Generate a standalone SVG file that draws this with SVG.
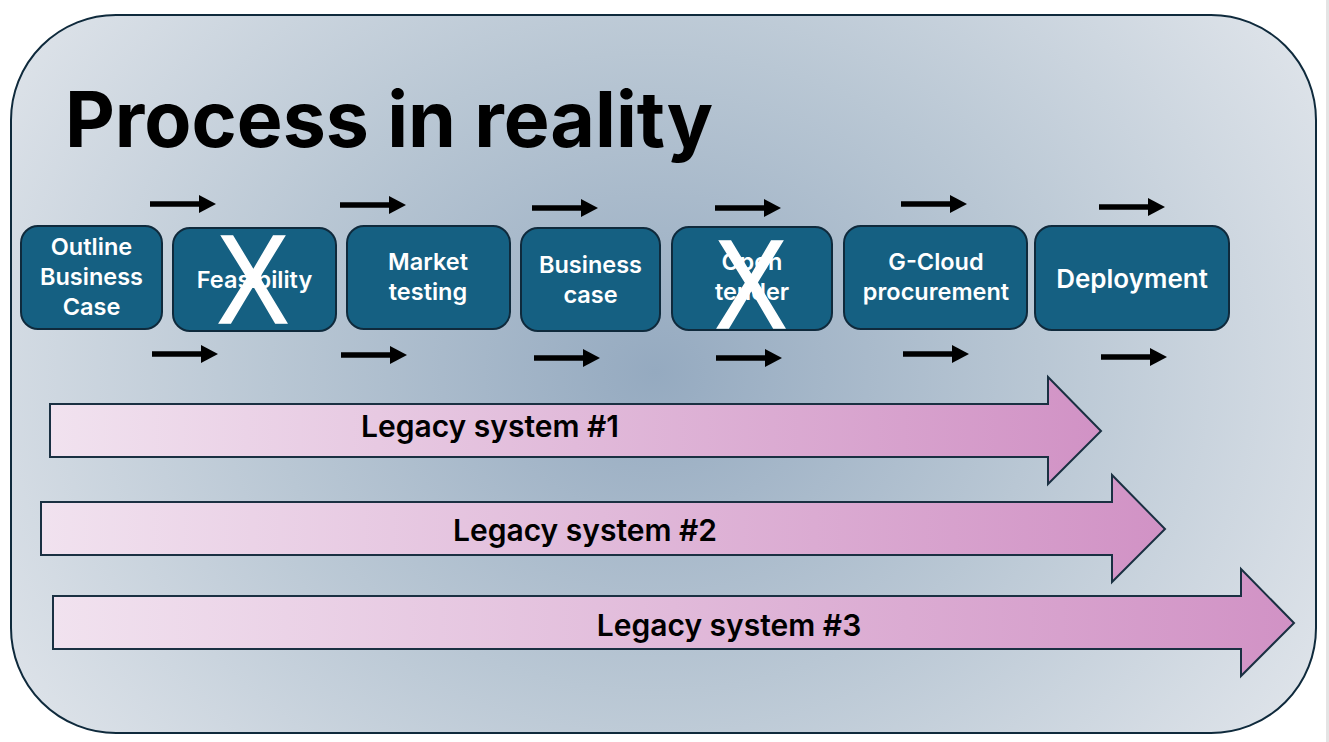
<svg xmlns="http://www.w3.org/2000/svg" width="1329" height="742" viewBox="0 0 1329 742">
<style>
text{font-family:"Inter","Open Sans","Liberation Sans",sans-serif;text-anchor:middle}
.box{fill:#156082;stroke:#0f2a3c;stroke-width:2}
.bt{fill:#fff;font-weight:600;font-size:23.500px}
.x{fill:#fff;stroke:#fff;stroke-width:1.500px;font-family:"Liberation Sans",sans-serif;font-size:126px}
.leg{stroke:#1a3042;stroke-width:2;fill:url(#pink)}
.lt{fill:#000;font-weight:600;font-size:30px}
.ar{stroke:#000;stroke-width:5.500;fill:none;marker-end:url(#head)}
</style>
<defs>
<radialGradient id="bg" gradientUnits="userSpaceOnUse" cx="0" cy="0" r="1" gradientTransform="translate(655 372) scale(770 640)">
<stop offset="0" stop-color="#95aac0"/><stop offset=".5" stop-color="#b9c7d4"/><stop offset="1" stop-color="#dfe4ea"/>
</radialGradient>
<linearGradient id="pink"><stop offset="0" stop-color="#f1e2ef"/><stop offset="1" stop-color="#d192c5"/></linearGradient>
<marker id="head" markerUnits="userSpaceOnUse" markerWidth="18" markerHeight="18" refX="1" refY="9" orient="auto"><path d="M0 0L17 9L0 18z" fill="#000"/></marker>
</defs>
<rect width="1329" height="742" fill="#fff"/>
<rect x="1326" width="3" height="742" fill="#e4e4e4"/>
<g id="frame"><rect x="11" y="15" width="1305" height="718" rx="105" ry="105" fill="url(#bg)" stroke="#0f2a3c" stroke-width="2"/></g>
<text id="title" x="389" y="147" style="font-weight:700;font-size:77px">Process in reality</text>
<g id="connectors">
<path class="ar" d="M150 204H200"/><path class="ar" d="M340 205H390"/><path class="ar" d="M532 208H582"/><path class="ar" d="M715 208H765"/><path class="ar" d="M901 204H951"/><path class="ar" d="M1099 207H1149"/>
<path class="ar" d="M152 354H202"/><path class="ar" d="M341 355H391"/><path class="ar" d="M534 358H584"/><path class="ar" d="M716 358H766"/><path class="ar" d="M903 354H953"/><path class="ar" d="M1101 357H1151"/>
</g>
<g id="n1"><rect class="box" x="21" y="226" width="141" height="103" rx="17"/><text class="bt" x="91.500" y="255">Outline</text><text class="bt" x="91.500" y="285">Business</text><text class="bt" x="91.500" y="315">Case</text></g>
<g id="n2"><rect class="box" x="173" y="228" width="163" height="103" rx="17"/><text class="bt" x="254.500" y="288">Feasibility</text><text class="x" x="253" y="322.500" textLength="72" lengthAdjust="spacingAndGlyphs">X</text></g>
<g id="n3"><rect class="box" x="347" y="226" width="163" height="103" rx="17"/><text class="bt" x="428" y="270">Market</text><text class="bt" x="428" y="300">testing</text></g>
<g id="n4"><rect class="box" x="521" y="228" width="139" height="103" rx="17"/><text class="bt" x="590.500" y="273">Business</text><text class="bt" x="590.500" y="303">case</text></g>
<g id="n5"><rect class="box" x="672" y="227" width="160" height="103" rx="17"/><text class="bt" x="752" y="270">Open</text><text class="bt" x="752" y="300">tender</text><text class="x" x="751" y="327.500" textLength="72" lengthAdjust="spacingAndGlyphs">X</text></g>
<g id="n6"><rect class="box" x="844" y="226" width="183" height="103" rx="17"/><text class="bt" x="936" y="270">G-Cloud</text><text class="bt" x="936" y="300">procurement</text></g>
<g id="n7"><rect class="box" x="1035" y="226" width="194" height="104" rx="17"/><text class="bt" x="1132" y="288" style="font-size:26px">Deployment</text></g>
<g id="leg1"><path class="leg" d="M50 404H1048V377L1101 431L1048 484V457H50z"/><text class="lt" x="490" y="437">Legacy system #1</text></g>
<g id="leg2"><path class="leg" d="M41 502H1112V475L1165 529L1112 582V555H41z"/><text class="lt" x="585" y="541">Legacy system #2</text></g>
<g id="leg3"><path class="leg" d="M53 596H1241V569L1294 623L1241 676V649H53z"/><text class="lt" x="729" y="636">Legacy system #3</text></g>
</svg>
